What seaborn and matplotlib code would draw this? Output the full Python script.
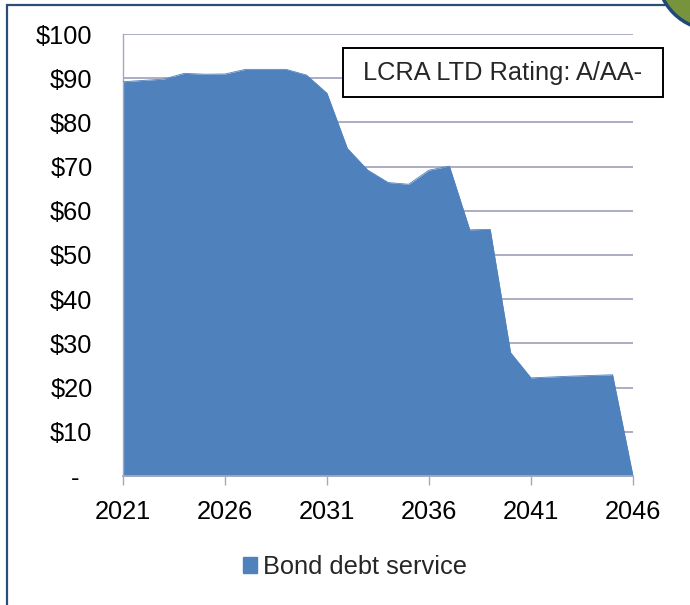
import pandas as pd
import matplotlib.pyplot as plt
import matplotlib.patches as mpatches
import matplotlib.transforms as mtransforms
import seaborn as sns

# Bond debt service ($ millions) by year
years = list(range(2021, 2047))
debt_service = [89.2, 89.5, 89.8, 91.1, 90.9, 90.95, 92.0, 92.0, 92.0, 90.7,
                86.6, 74.1, 69.2, 66.4, 66.0, 69.2, 70.1, 55.7, 55.8, 27.9,
                22.2, 22.4, 22.6, 22.75, 22.9, 0.0]
y_ticks = [0, 10, 20, 30, 40, 50, 60, 70, 80, 90, 100]
y_labels = ['-', '$10', '$20', '$30', '$40', '$50', '$60', '$70', '$80', '$90', '$100']
x_ticks = [2021, 2026, 2031, 2036, 2041, 2046]
rating_text = 'LCRA LTD Rating: A/AA-'
series_name = 'Bond debt service'

df = pd.DataFrame({'year': years, 'value': debt_service})

sns.set_theme(style="white")
plt.rcParams['font.family'] = ['Liberation Sans', 'DejaVu Sans']
fs = 18.3
area_color = '#4F81BD'
grid_color = '#A5A8BE'

fig = plt.figure(figsize=(6.9, 6.05), dpi=100)
ax = fig.add_axes([123 / 690, 1 - 476 / 605, 510 / 690, 442 / 605])

ax.fill_between(df['year'], df['value'], 0, color=area_color, linewidth=0, zorder=2)
sns.lineplot(x='year', y='value', data=df, color=area_color, linewidth=0.6, ax=ax, zorder=3)

ax.set_xlim(2021, 2046)
ax.set_ylim(0, 100)
ax.set_yticks(y_ticks)
ax.set_yticklabels(y_labels)
ax.set_xticks(x_ticks)
ax.set_xticklabels([str(x) for x in x_ticks])
ax.set_xlabel('')
ax.set_ylabel('')

for v in y_ticks[1:]:
    ax.axhline(v, color=grid_color, linewidth=1.3, zorder=1)

for side in ['top', 'right']:
    ax.spines[side].set_visible(False)
ax.spines['left'].set_color(grid_color)
ax.spines['left'].set_linewidth(1.0)
ax.spines['bottom'].set_color(grid_color)
ax.spines['bottom'].set_linewidth(1.3)
ax.spines['bottom'].set_zorder(4)

ax.tick_params(axis='x', direction='out', length=6.5, width=1.0, color=grid_color,
               pad=11, labelsize=fs, labelcolor='black', bottom=True)
ax.tick_params(axis='y', length=0, pad=22, labelsize=fs, labelcolor='black')

# the dash for zero sits a little left, like the accounting format
zero_label = ax.get_yticklabels()[0]
zero_label.set_transform(zero_label.get_transform() +
                         mtransforms.ScaledTranslation(-0.13, 0, fig.dpi_scale_trans))

# rating box
box = mpatches.Rectangle((343 / 690, 1 - 97 / 605), 320 / 690, 49 / 605, transform=fig.transFigure,
                         facecolor='white', edgecolor='black', linewidth=1.4, zorder=9)
fig.patches.append(box)
fig.text(503 / 690, 1 - 73 / 605, rating_text, fontsize=fs, ha='center', va='center', zorder=10)

# legend
handle = mpatches.Patch(color=area_color, label=series_name)
fig.legend(handles=[handle], loc='center', bbox_to_anchor=(355 / 690, 1 - 567 / 605),
           frameon=False, fontsize=fs, handlelength=0.55, handleheight=0.6, handletextpad=0.25)

# slide frame and corner badge
frame = mpatches.Rectangle((7 / 690, -0.05), 1.1, 1 - 5 / 605 + 0.05, transform=fig.transFigure,
                           fill=False, edgecolor='#2C4D75', linewidth=1.6)
fig.patches.append(frame)
badge = mpatches.Ellipse((714 / 690, 1 + 27 / 605), 114 / 690, 114 / 605, transform=fig.transFigure,
                         facecolor='#77933C', edgecolor='#1F497D', linewidth=2.5)
fig.patches.append(badge)

fig.savefig('out.png', dpi=100)
